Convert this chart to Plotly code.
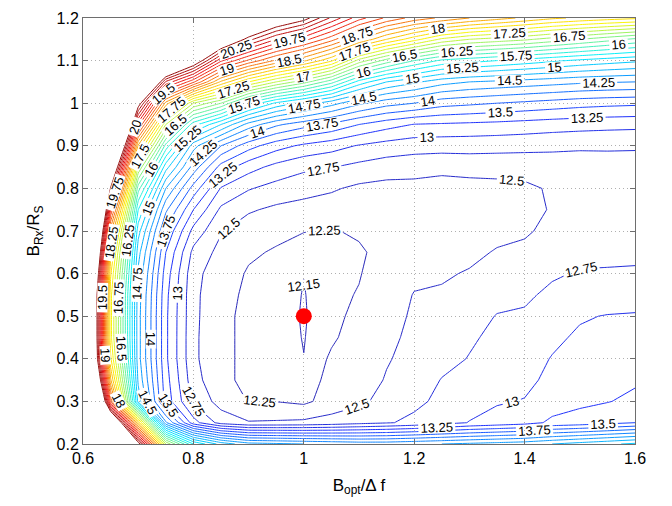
import plotly.graph_objects as go

# grid coordinates
x_vals = [0.6, 0.65, 0.7, 0.75, 0.8, 0.85, 0.9, 0.95, 1.0, 1.05, 1.1,
          1.15, 1.2, 1.25, 1.3, 1.35, 1.4, 1.45, 1.5, 1.55, 1.6]
y_vals = [0.2, 0.25, 0.3, 0.35, 0.4, 0.45, 0.5, 0.55, 0.6, 0.65, 0.7,
          0.75, 0.8, 0.85, 0.9, 0.95, 1.0, 1.05, 1.1, 1.15, 1.2]

# z values per column (x), listed bottom (y=0.2) to top (y=1.2)
z_x060 = [32, 30, 27, 25, 24, 24, 24, 24, 24.5, 25.3, 26.3, 27.5, 29, 30, 31, 32, 33, 34, 35, 36, 37]
z_x065 = [26, 22.5, 19.2, 18.3, 17.8, 17.6, 17.6, 17.6, 17.8, 18.1, 18.6, 19.5, 20.7, 22.0, 23.5, 25, 26.5, 28, 29.5, 31, 32.5]
z_x070 = [21.0, 18.0, 14.9, 14.7, 14.6, 14.6, 14.6, 14.62, 14.7, 14.85, 15.1, 15.5, 16.1, 17.0, 18.2, 19.6, 21.0, 23, 25, 27, 29]
z_x075 = [17.0, 14.3, 13.4, 13.35, 13.3, 13.3, 13.3, 13.32, 13.38, 13.5, 13.72, 14.05, 14.5, 15.1, 15.9, 17.0, 18.4, 20.2, 22.5, 25, 27]
z_x080 = [15.5, 13.1, 12.7, 12.6, 12.55, 12.55, 12.56, 12.56, 12.58, 12.68, 12.92, 13.25, 13.65, 14.15, 14.6, 15.6, 17.0, 19.3, 21.2, 23.5, 25]
z_x085 = [14.9, 12.65, 12.4, 12.3, 12.3, 12.3, 12.3, 12.32, 12.35, 12.42, 12.52, 12.7, 12.98, 13.4, 14.0, 15.0, 16.5, 18.2, 19.8, 21.5, 23.5]
z_x090 = [14.6, 12.52, 12.24, 12.2, 12.2, 12.2, 12.2, 12.21, 12.23, 12.28, 12.37, 12.53, 12.77, 13.1, 13.6, 14.4, 15.7, 17.5, 19.2, 20.6, 22.0]
z_x095 = [14.55, 12.53, 12.245, 12.21, 12.2, 12.2, 12.2, 12.2, 12.21, 12.23, 12.3, 12.45, 12.66, 12.92, 13.35, 14.05, 15.2, 17.0, 18.7, 20.0, 21.3]
z_x100 = [14.5, 12.55, 12.2, 12.17, 12.152, 12.145, 12.14, 12.145, 12.152, 12.19, 12.255, 12.4, 12.6, 12.8, 13.2, 13.85, 14.9, 16.6, 18.3, 19.6, 20.9]
z_x105 = [14.45, 12.6, 12.35, 12.3, 12.27, 12.23, 12.22, 12.21, 12.2, 12.2, 12.24, 12.38, 12.53, 12.76, 13.1, 13.7, 14.6, 16.1, 17.8, 19.1, 20.2]
z_x110 = [14.4, 12.67, 12.45, 12.37, 12.34, 12.31, 12.28, 12.26, 12.24, 12.23, 12.27, 12.32, 12.45, 12.68, 12.98, 13.5, 14.3, 15.4, 16.9, 18.5, 19.6]
z_x115 = [14.4, 12.73, 12.58, 12.52, 12.48, 12.45, 12.42, 12.38, 12.34, 12.3, 12.3, 12.32, 12.42, 12.62, 12.9, 13.35, 14.1, 15.0, 16.4, 18.0, 19.2]
z_x120 = [14.45, 12.8, 12.7, 12.62, 12.58, 12.55, 12.53, 12.51, 12.45, 12.38, 12.33, 12.32, 12.42, 12.6, 12.85, 13.24, 14.0, 14.8, 16.0, 17.6, 18.9]
z_x125 = [14.5, 12.9, 12.8, 12.76, 12.68, 12.63, 12.58, 12.53, 12.47, 12.4, 12.35, 12.33, 12.38, 12.58, 12.84, 13.22, 13.85, 14.6, 15.7, 17.2, 18.7]
z_x130 = [14.55, 13.01, 12.9, 12.82, 12.76, 12.72, 12.66, 12.6, 12.52, 12.44, 12.38, 12.35, 12.4, 12.6, 12.84, 13.2, 13.8, 14.5, 15.6, 17.0, 18.5]
z_x135 = [14.6, 13.08, 12.98, 12.9, 12.85, 12.8, 12.76, 12.68, 12.6, 12.52, 12.43, 12.38, 12.42, 12.6, 12.83, 13.18, 13.75, 14.45, 15.5, 16.9, 18.35]
z_x140 = [14.65, 13.15, 13.01, 12.95, 12.92, 12.85, 12.78, 12.71, 12.63, 12.55, 12.47, 12.42, 12.45, 12.6, 12.82, 13.15, 13.7, 14.4, 15.4, 16.8, 18.2]
z_x145 = [14.75, 13.3, 13.13, 13.05, 13.01, 12.96, 12.9, 12.8, 12.72, 12.63, 12.56, 12.52, 12.53, 12.63, 12.8, 13.12, 13.65, 14.35, 15.3, 16.65, 18.05]
z_x150 = [14.85, 13.35, 13.2, 13.12, 13.07, 13.03, 12.98, 12.86, 12.77, 12.68, 12.62, 12.58, 12.58, 12.65, 12.78, 13.1, 13.6, 14.3, 15.2, 16.5, 17.95]
z_x155 = [14.95, 13.42, 13.24, 13.17, 13.12, 13.06, 13.01, 12.88, 12.775, 12.69, 12.63, 12.6, 12.6, 12.66, 12.78, 13.08, 13.57, 14.27, 15.12, 16.35, 17.87]
z_x160 = [15.05, 13.5, 13.3, 13.22, 13.17, 13.1, 13.02, 12.9, 12.78, 12.7, 12.65, 12.62, 12.63, 12.68, 12.77, 13.07, 13.55, 14.25, 15.05, 16.2, 17.8]

# contour levels
level_min = 12.15
level_start = 12.25
level_end = 20.75
level_step = 0.25

# optimum point
opt_x = [1.0]
opt_y = [0.5]

columns = [z_x060, z_x065, z_x070, z_x075, z_x080, z_x085, z_x090, z_x095,
           z_x100, z_x105, z_x110, z_x115, z_x120, z_x125, z_x130, z_x135,
           z_x140, z_x145, z_x150, z_x155, z_x160]
z = [[col[i] for col in columns] for i in range(len(y_vals))]

jet = [[0.0, 'rgb(40,40,185)'], [0.125, 'rgb(30,50,255)'], [0.375, 'rgb(0,240,255)'],
       [0.625, 'rgb(255,245,0)'], [0.875, 'rgb(240,20,20)'], [1.0, 'rgb(150,10,10)']]
low_blue = [[0.0, 'rgb(40,40,185)'], [1.0, 'rgb(40,40,185)']]

FONT = "Liberation Sans, Arial, Helvetica, sans-serif"
label_font = dict(family=FONT, size=13, color='black')

fig = go.Figure()
fig.add_trace(go.Contour(
    x=x_vals, y=y_vals, z=z,
    colorscale=jet, zmin=level_min, zmax=level_end, zauto=False,
    showscale=False, line=dict(width=1, smoothing=0),
    contours=dict(start=level_start, end=level_end, size=level_step,
                  coloring='lines', showlabels=True,
                  labelfont=label_font, labelformat='~g'),
    hoverinfo='skip'))
fig.add_trace(go.Contour(
    x=x_vals, y=y_vals, z=z,
    colorscale=low_blue, showscale=False, line=dict(width=1, smoothing=0),
    contours=dict(start=level_min, end=level_min, size=0.1,
                  coloring='lines', showlabels=True,
                  labelfont=label_font, labelformat='~g'),
    hoverinfo='skip'))
fig.add_trace(go.Scatter(x=opt_x, y=opt_y, mode='markers',
                         marker=dict(color='rgb(255,0,0)', size=16),
                         showlegend=False, hoverinfo='skip'))

axis_common = dict(showgrid=True, gridcolor='rgb(175,175,175)', griddash='1px,3px',
                   gridwidth=1, zeroline=False, showline=True, mirror='ticks',
                   linecolor='rgb(110,110,110)', linewidth=1, ticks='inside',
                   ticklen=5, tickcolor='rgb(110,110,110)',
                   tickfont=dict(family=FONT, size=16, color='black'))

fig.update_layout(
    width=672, height=506,
    margin=dict(l=83, r=37, t=10, b=62),
    paper_bgcolor='white', plot_bgcolor='white',
    showlegend=False,
    font=dict(family=FONT, color='black'),
    xaxis=dict(range=[0.6, 1.6], dtick=0.2, tick0=0.6,
               title=dict(text='B<sub>opt</sub>/Δ f', font=dict(size=17), standoff=12),
               **axis_common),
    yaxis=dict(range=[0.2, 1.2], dtick=0.1, tick0=0.2,
               title=dict(text='B<sub>Rx</sub>/R<sub>S</sub>', font=dict(size=17), standoff=12),
               **axis_common),
)

# remove the default page margin so the figure sits at the window's corner
fig.write_html("out.html",
               config={'displayModeBar': False},
               post_script="document.body.style.margin='0px';document.body.style.padding='0px';")
